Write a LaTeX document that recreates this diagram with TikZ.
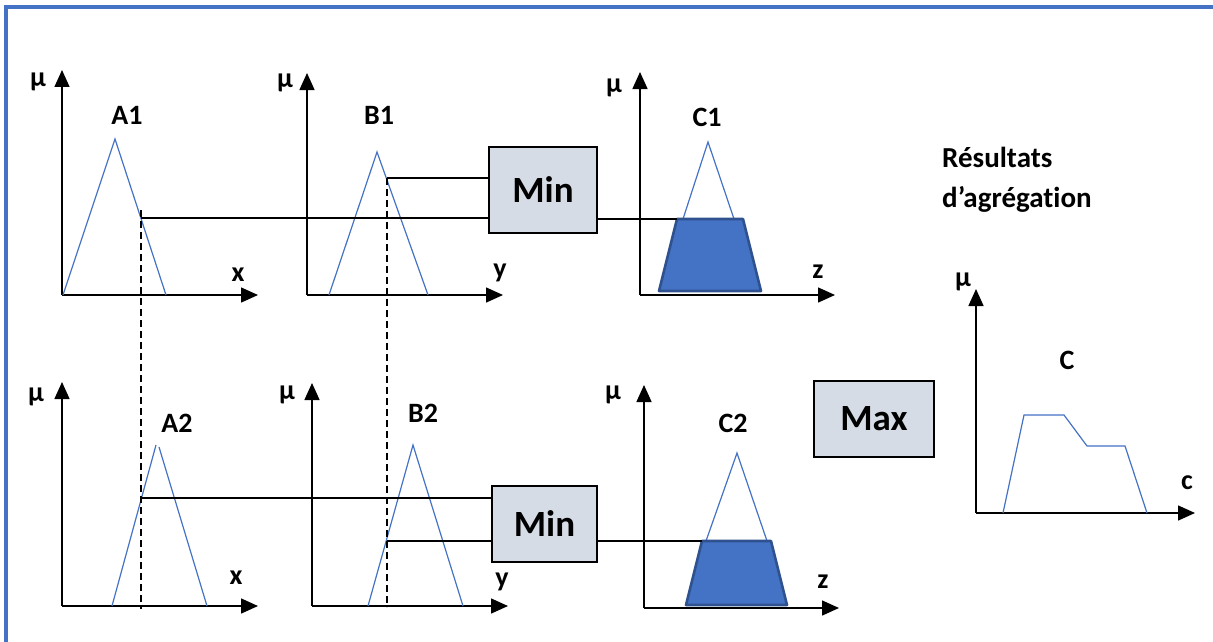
\documentclass[tikz,border=0pt]{standalone}
\usepackage{fontspec}
\setmainfont[Ligatures=NoCommon]{Carlito}
\usetikzlibrary{arrows.meta}
\definecolor{mfblue}{HTML}{4472C4}
\definecolor{mfedge}{HTML}{2F528F}
\definecolor{boxfill}{HTML}{D6DCE5}
\tikzset{
  axis/.style={line width=1.5pt, -{Triangle[width=15pt,length=17pt]}},
  mf/.style={mfblue, line width=1.2pt, line join=miter},
  cut/.style={mfblue, fill=mfblue, draw=mfedge, line width=2.6pt, line join=round},
  link/.style={black, line width=1.3pt},
  guide/.style={black, line width=1.4pt, dash pattern=on 7pt off 4pt},
  lbl/.style={font=\fontsize{28}{32}\selectfont\bfseries, inner sep=0pt},
  opbox/.style={draw=black, fill=boxfill, line width=1.3pt, inner sep=0pt,
                font=\fontsize{37}{42}\selectfont\bfseries},
  frame/.style={mfblue, line width=4pt}
}
\begin{document}
\begin{tikzpicture}[x=1pt, y=-1pt]
\useasboundingbox (0,0) rectangle (1213,642);
% outer frame (top and left edges)
\draw[frame] (6,642) -- (6,7) -- (1213,7);

% ---------- rule 1 ----------
% antecedent A1
\draw[axis] (62,295) -- (62,70);
\draw[axis] (62,295) -- (258,295);
\node[lbl] (muA1) at (38,82) {μ};
\node[lbl] (xA1) at (238,275) {x};
\node[lbl] (nA1) at (127,115) {A1};
\draw[mf] (63,295) -- (115,139) -- (166,295);
\coordinate (a1cut) at (141,218);

% antecedent B1
\draw[axis] (307,295) -- (307,73);
\draw[axis] (307,295) -- (503,295);
\node[lbl] (muB1) at (285,83) {μ};
\node[lbl] (yB1) at (500,273) {y};
\node[lbl] (nB1) at (379,115) {B1};
\draw[mf] (329,295) -- (377,152) -- (428,295);
\coordinate (b1cut) at (387,178);

% min operator 1
\node[opbox, minimum width=108pt, minimum height=86pt] (min1) at (543,190) {Min};

% consequent C1
\draw[axis] (640,295) -- (640,72);
\draw[axis] (640,295) -- (835,295);
\node[lbl] (muC1) at (614,88) {μ};
\node[lbl] (zC1) at (818,272) {z};
\node[lbl] (nC1) at (707,117) {C1};
\draw[mf] (683,219) -- (708,142) -- (734,219);
\coordinate (c1tl) at (677,219);
\draw[cut] (c1tl) -- (743,219) -- (761,291) -- (659,291) -- cycle;

% ---------- rule 2 ----------
% antecedent A2
\draw[axis] (62,606) -- (62,382);
\draw[axis] (62,606) -- (258,606);
\node[lbl] (muA2) at (36,397) {μ};
\node[lbl] (xA2) at (236,578) {x};
\node[lbl] (nA2) at (177,423) {A2};
\draw[mf] (112,606) -- (156,445);
\draw[mf] (159,447) -- (207,606);
\coordinate (a2cut) at (141,498);

% antecedent B2
\draw[axis] (312,606) -- (312,383);
\draw[axis] (312,606) -- (508,606);
\node[lbl] (muB2) at (287,395) {μ};
\node[lbl] (yB2) at (502,582) {y};
\node[lbl] (nB2) at (423,413) {B2};
\draw[mf] (368,606) -- (413,445) -- (463,606);
\coordinate (b2cut) at (387,541);

% min operator 2
\node[opbox, minimum width=105pt, minimum height=76pt] (min2) at (544.5,524) {Min};

% consequent C2
\draw[axis] (644,608) -- (644,385);
\draw[axis] (644,608) -- (839,608);
\node[lbl] (muC2) at (613,395) {μ};
\node[lbl] (zC2) at (823,582) {z};
\node[lbl] (nC2) at (733,423) {C2};
\draw[mf] (706,541) -- (737,453) -- (767,541);
\coordinate (c2tl) at (702,541);
\draw[cut] (c2tl) -- (771,541) -- (787,605) -- (686,605) -- cycle;

% ---------- crisp inputs ----------
\coordinate (g1top) at (141,210);
\coordinate (g1bot) at (141,609);
\coordinate (g2top) at (387,178);
\coordinate (g2bot) at (387,607);
\draw[guide] (g1top) -- (g1bot);
\draw[guide] (g2top) -- (g2bot);

% degrees of membership into the min operators
\draw[link] (a1cut) -- (a1cut -| min1.west);
\draw[link] (b1cut) -- (b1cut -| min1.west);
\draw[link] (c1tl -| min1.east) -- (c1tl);
\draw[link] (a2cut) -- (a2cut -| min2.west);
\draw[link] (b2cut) -- (b2cut -| min2.west);
\draw[link] (c2tl -| min2.east) -- (c2tl);

% ---------- aggregation ----------
\node[opbox, minimum width=120pt, minimum height=76pt] (max) at (874,419) {Max};

\node[font=\fontsize{29}{40}\selectfont\bfseries, align=left, anchor=west, inner sep=0pt]
  (title) at (942,180) {Résultats\\d’agrégation};

\draw[axis] (976,513) -- (976,289);
\draw[axis] (976,513) -- (1195,513);
\node[lbl] (muC) at (963,282) {μ};
\node[lbl] (cC) at (1187,483) {c};
\node[lbl] (nC) at (1067,360) {C};
\draw[mf] (1003,513) -- (1024,415) -- (1064,415) -- (1087,446) -- (1125,446) -- (1147,513);
\end{tikzpicture}
\end{document}
